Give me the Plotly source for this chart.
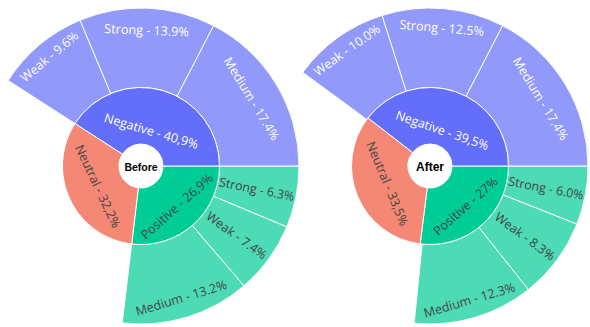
import plotly.graph_objects as go

# ---- data ---------------------------------------------------------------
sentiments = ["Negative", "Neutral", "Positive"]
strengths_neg = ["Medium", "Strong", "Weak"]
strengths_pos = ["Medium", "Weak", "Strong"]

before_share = [40.9, 32.2, 26.9]
before_neg = [17.4, 13.9, 9.6]
before_pos = [13.2, 7.4, 6.3]

after_share = [39.5, 33.5, 27.0]
after_neg = [17.4, 12.5, 10.0]
after_pos = [12.3, 8.3, 6.0]

panel_titles = ["Before", "After"]

# ---- style --------------------------------------------------------------
NEG = "rgb(99,110,250)"
NEU = "rgba(239,85,59,0.7)"
POS = "rgb(0,204,150)"
NEG_L = "rgba(99,110,250,0.7)"
POS_L = "rgba(0,204,150,0.7)"
DARK = "#444"
LIGHT = "#ffffff"
LABEL_SIZE = 12.6
TITLE_SIZES = [10.5, 12]

W, H = 608, 327          # figure size (shifted 18px left in the page)
SHIFT = 18
R_OUT, R_MID, R_IN = 158, 78.5, 22
CY = 166
CXS = [141 + SHIFT, 430 + SHIFT]


def dom(cx, cy, r):
    return dict(x=[(cx - r) / W, (cx + r) / W],
                y=[(H - cy - r) / H, (H - cy + r) / H])


def inner_text(name, v):
    return f"{name} - {v:g}".replace(".", ",") + "%"


def rev(seq):
    # slices are laid out clockwise from 3 o'clock, so feed them in reverse
    return list(seq)[::-1]


fig = go.Figure()
panels = [(before_share, before_neg, before_pos), (after_share, after_neg, after_pos)]

for k, (share, neg, pos) in enumerate(panels):
    cx = CXS[k]
    # outer ring: strength breakdown, neutral left empty
    o_labels = [f"N-{s}" for s in strengths_neg] + ["Neutral"] + [f"P-{s}" for s in strengths_pos]
    o_values = neg + [share[1]] + pos
    o_text = ([f"{s} - {v:.1f}%" for s, v in zip(strengths_neg, neg)] + [""] +
              [f"{s} - {v:.1f}%" for s, v in zip(strengths_pos, pos)])
    o_colors = [NEG_L] * 3 + ["rgba(0,0,0,0)"] + [POS_L] * 3
    o_tcol = [LIGHT] * 3 + [DARK] + [DARK] * 3
    o_lw = [1, 1, 1, 0, 1, 1, 1]
    fig.add_trace(go.Pie(
        labels=rev(o_labels), values=rev(o_values), text=rev(o_text), textinfo="text",
        hole=R_MID / R_OUT, sort=False, direction="clockwise", rotation=90,
        marker=dict(colors=rev(o_colors), line=dict(color="white", width=rev(o_lw))),
        insidetextfont=dict(color=rev(o_tcol), size=LABEL_SIZE),
        textposition="inside", insidetextorientation="auto",
        domain=dom(cx, CY, R_OUT), showlegend=False, hoverinfo="text",
    ))
    # inner ring: sentiment share
    fig.add_trace(go.Pie(
        labels=rev(sentiments), values=rev(share),
        text=rev([inner_text(n, v) for n, v in zip(sentiments, share)]), textinfo="text",
        hole=R_IN / R_MID, sort=False, direction="clockwise", rotation=90,
        marker=dict(colors=rev([NEG, NEU, POS]), line=dict(color="white", width=1)),
        insidetextfont=dict(color=rev([LIGHT, DARK, DARK]), size=LABEL_SIZE),
        textposition="inside", insidetextorientation="auto",
        title=dict(text=panel_titles[k], position="middle center",
                   font=dict(family="Liberation Sans, Arial", size=TITLE_SIZES[k],
                             color="black", weight="bold")),
        domain=dom(cx, CY, R_MID), showlegend=False, hoverinfo="text",
    ))

fig.update_layout(
    width=W, height=H, margin=dict(l=0, r=0, t=0, b=0),
    paper_bgcolor="white", plot_bgcolor="white",
    font=dict(family="Open Sans, verdana, arial, sans-serif"),
)

fig.write_html(
    "out.html",
    post_script=f"document.getElementById('{{plot_id}}').style.marginLeft='-{SHIFT}px';",
)
